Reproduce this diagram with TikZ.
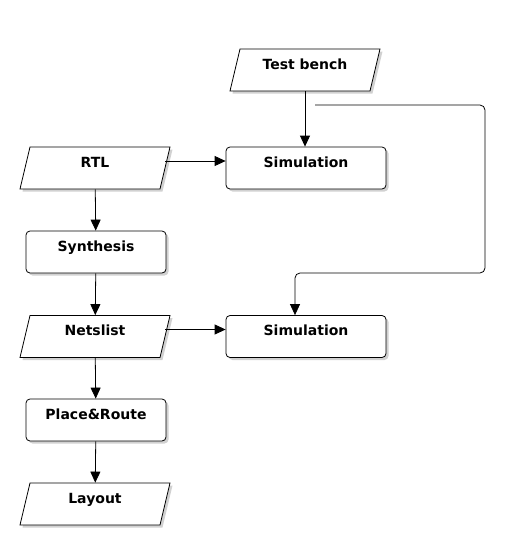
\documentclass[tikz,border=0pt]{standalone}
\usepackage{fontspec}
\setmainfont{DejaVu Sans}
\usetikzlibrary{shapes.geometric,shadows,arrows.meta}
\begin{document}
\begin{tikzpicture}[x=1pt,y=-1pt,
  line width=0.8pt,>={Triangle[length=11pt,width=10pt]},
  base node/.style={draw,fill=white,inner sep=0pt,text height=20pt,text depth=22pt,
    font=\fontsize{14}{16}\selectfont\bfseries,
    drop shadow={shadow xshift=2.5pt,shadow yshift=-2.5pt,fill=black!30,opacity=0.6}},
  io node/.style={base node,trapezium,trapezium left angle=76.6,trapezium right angle=103.4,
    trapezium stretches body,minimum width=150pt,minimum height=42pt},
  proc node/.style={base node,rectangle,rounded corners=4pt,minimum height=42pt}]

  \useasboundingbox (0,0) rectangle (520,560);

  \node[io node] (tb) at (305,70) {Test bench};
  \node[io node] (rtl) at (95,168) {RTL};
  \node[proc node,minimum width=160pt] (sim1) at (306,168) {Simulation};
  \node[proc node,minimum width=140pt] (syn) at (96,252) {Synthesis};
  \node[io node] (net) at (95,336.5) {Netslist};
  \node[proc node,minimum width=160pt] (sim2) at (306,336.5) {Simulation};
  \node[proc node,minimum width=140pt] (pr) at (96,420) {Place\&Route};
  \node[io node] (lay) at (95,504) {Layout};
  \coordinate (tb out) at (315,105);

  \path[->]
   (tb.south) edge (tb.south |- sim1.north)
   (rtl) edge (syn)
   (syn) edge (net)
   (net) edge (pr)
   (pr) edge (lay)
   ([yshift=7pt]rtl.east) edge ([yshift=7pt]sim1.west)
   ([yshift=7pt]net.east) edge ([yshift=7pt]sim2.west);

  \draw[->,rounded corners=5pt] (tb out) -- (485,105) -- (485,273) -- (295,273)
   -- ([xshift=-11pt]sim2.north);
\end{tikzpicture}
\end{document}
